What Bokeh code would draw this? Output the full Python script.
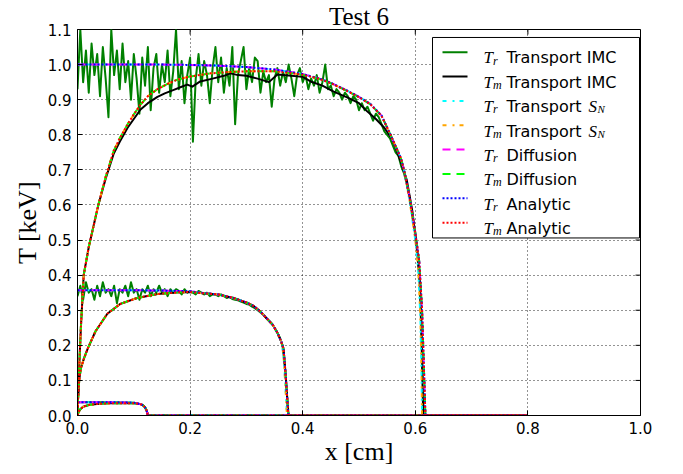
from bokeh.plotting import figure
from bokeh.models import Range1d, FixedTicker, PrintfTickFormatter
from bokeh.core.properties import value
from bokeh.embed import file_html
from bokeh.resources import INLINE

# ---------------------------------------------------------------------------
# Temperature profiles (keV) at three times; x in cm
# ---------------------------------------------------------------------------
x_ticks = [0.0, 0.2, 0.4, 0.6, 0.8, 1.0]
y_ticks = [0.0, 0.1, 0.2, 0.3, 0.4, 0.5, 0.6, 0.7, 0.8, 0.9, 1.0, 1.1]

# earliest time
tr1_x = [0.0, 0.05, 0.09, 0.10, 0.105, 0.11, 0.114, 0.117, 0.12, 0.122, 0.124, 0.125, 0.80]
tr1_y = [0.038, 0.038, 0.037, 0.036, 0.035, 0.033, 0.031, 0.028, 0.023, 0.017, 0.008, 0.0, 0.0]
tm1_x = [0.0, 0.002, 0.005, 0.01, 0.02, 0.03, 0.045, 0.06, 0.08, 0.10, 0.105, 0.11, 0.114,
         0.117, 0.12, 0.122, 0.124, 0.125, 0.80]
tm1_y = [0.0, 0.01, 0.018, 0.025, 0.03, 0.032, 0.034, 0.035, 0.035, 0.035, 0.034, 0.033, 0.031,
         0.028, 0.023, 0.017, 0.008, 0.0, 0.0]

# middle time
tr2_x = [0.0, 0.05, 0.10, 0.15, 0.20, 0.218, 0.25, 0.277, 0.30, 0.313, 0.325, 0.337, 0.347,
         0.355, 0.362, 0.366, 0.369, 0.372, 0.374, 0.375, 0.80]
tr2_y = [0.357, 0.357, 0.357, 0.356, 0.354, 0.350, 0.345, 0.335, 0.322, 0.312, 0.296, 0.275,
         0.258, 0.236, 0.21, 0.19, 0.13, 0.06, 0.01, 0.0, 0.0]
tm2_x = [0.0, 0.001, 0.003, 0.006, 0.012, 0.018, 0.032, 0.053, 0.076, 0.106, 0.142, 0.18, 0.20,
         0.218, 0.25, 0.277, 0.30, 0.313, 0.325, 0.337, 0.347, 0.355, 0.362, 0.366, 0.369,
         0.372, 0.374, 0.375, 0.80]
tm2_y = [0.0, 0.05, 0.10, 0.135, 0.165, 0.19, 0.24, 0.29, 0.318, 0.335, 0.346, 0.351, 0.352,
         0.349, 0.345, 0.335, 0.322, 0.312, 0.296, 0.275, 0.258, 0.236, 0.21, 0.19, 0.13,
         0.06, 0.01, 0.0, 0.0]

# latest time
tr3_x = [0.0, 0.05, 0.10, 0.15, 0.20, 0.25, 0.30, 0.35, 0.40, 0.43, 0.45, 0.48, 0.50, 0.52,
         0.54, 0.556, 0.574, 0.58, 0.59, 0.60, 0.607, 0.612, 0.615, 0.617, 0.618, 0.80]
tr3_y = [1.0, 1.0, 1.0, 1.0, 0.999, 0.997, 0.993, 0.986, 0.973, 0.960, 0.948, 0.925, 0.908,
         0.888, 0.855, 0.80, 0.735, 0.70, 0.62, 0.52, 0.44, 0.30, 0.15, 0.05, 0.0, 0.0]
tm3_x = [0.0, 0.002, 0.006, 0.011, 0.02, 0.037, 0.05, 0.064, 0.075, 0.089, 0.10, 0.112, 0.125,
         0.142, 0.16, 0.177, 0.20, 0.236, 0.27, 0.30, 0.35, 0.40, 0.43, 0.45, 0.48, 0.50, 0.52,
         0.54, 0.556, 0.574, 0.58, 0.59, 0.60, 0.607, 0.612, 0.615, 0.617, 0.618, 0.80]
tm3_y = [0.0, 0.10, 0.25, 0.40, 0.48, 0.60, 0.68, 0.753, 0.79, 0.83, 0.858, 0.886, 0.91, 0.93,
         0.945, 0.957, 0.966, 0.975, 0.979, 0.981, 0.981, 0.971, 0.959, 0.947, 0.924, 0.907,
         0.887, 0.854, 0.80, 0.735, 0.70, 0.62, 0.52, 0.44, 0.30, 0.15, 0.05, 0.0, 0.0]

# S_N wave fronts sit slightly behind the others
sn_front3_x = [0.58, 0.59, 0.60, 0.605, 0.609, 0.611, 0.612, 0.80]
sn_front3_y = [0.70, 0.61, 0.50, 0.42, 0.28, 0.12, 0.0, 0.0]
sn_front2_x = [0.362, 0.366, 0.368, 0.370, 0.372, 0.80]
sn_front2_y = [0.21, 0.17, 0.12, 0.06, 0.0, 0.0]

# IMC radiation temperature (noisy), sampled every 0.005 cm
imc_step = 0.005
imc_tr3 = [0.93, 1.10, 0.95, 1.04, 0.92, 1.06, 0.97, 1.03, 0.91, 1.05, 0.96, 0.85, 1.10, 0.97,
           1.04, 0.93, 1.06, 0.95, 1.01, 0.90, 1.03, 0.96, 0.86, 1.02, 0.94, 1.05, 0.87, 0.99,
           1.03, 0.92, 1.00, 0.95, 1.04, 0.91, 0.98, 1.10, 0.93, 1.01, 0.89, 0.97, 1.02, 0.78,
           0.96, 1.03, 0.94, 1.01, 0.97, 0.89, 0.99, 1.05, 0.95, 1.02, 0.92, 0.99, 0.94, 1.05,
           0.83, 0.97, 1.01, 1.05, 0.93, 0.99, 0.95, 1.02, 1.01, 0.92, 0.98, 0.95, 0.97, 0.88,
           0.96, 0.99, 0.94, 0.98, 0.95, 1.00, 0.96, 0.91, 0.97, 0.99, 0.95, 0.97, 0.93, 0.96,
           0.94, 0.97, 0.92, 0.95, 1.00, 0.93, 0.94, 0.91, 0.93, 0.92, 0.90, 0.92, 0.91, 0.89,
           0.91, 0.90, 0.87, 0.89, 0.87, 0.88, 0.86, 0.84, 0.86, 0.85, 0.83, 0.81, 0.80, 0.79,
           0.77, 0.75, 0.74, 0.71, 0.69, 0.66, 0.62, 0.57, 0.52, 0.45]
imc_tr3_front_x = [0.610, 0.613, 0.615, 0.80]
imc_tr3_front_y = [0.32, 0.12, 0.0, 0.0]

imc_tr2 = [0.34, 0.37, 0.33, 0.38, 0.35, 0.36, 0.33, 0.37, 0.34, 0.38, 0.35, 0.36, 0.34, 0.37,
           0.32, 0.36, 0.35, 0.37, 0.34, 0.38, 0.35, 0.36, 0.33, 0.36, 0.35, 0.37, 0.34, 0.36,
           0.35, 0.37, 0.35, 0.36, 0.34, 0.36, 0.35, 0.36, 0.355, 0.345, 0.36, 0.35, 0.355,
           0.35, 0.345, 0.355, 0.35, 0.345, 0.35, 0.34, 0.345, 0.345, 0.34, 0.345, 0.34, 0.335,
           0.338, 0.332, 0.33, 0.328, 0.325, 0.322, 0.318, 0.316, 0.31, 0.306, 0.30, 0.294,
           0.287, 0.278, 0.27, 0.262, 0.25, 0.236, 0.22]
imc_tr2_front_x = [0.364, 0.367, 0.370, 0.373, 0.375, 0.80]
imc_tr2_front_y = [0.20, 0.16, 0.11, 0.04, 0.0, 0.0]

# IMC material temperature at the latest time
imc_tm3_x = [0.0, 0.002, 0.006, 0.011, 0.02, 0.037, 0.05, 0.064, 0.075, 0.089, 0.10, 0.112,
             0.125, 0.142, 0.155, 0.171, 0.185, 0.195, 0.204, 0.218, 0.24, 0.26, 0.272, 0.285,
             0.30, 0.32, 0.34, 0.355, 0.38, 0.40, 0.414, 0.435, 0.455, 0.48, 0.50, 0.515, 0.53,
             0.545, 0.56, 0.575, 0.585, 0.595, 0.603, 0.608, 0.611, 0.613, 0.614, 0.80]
imc_tm3_y = [0.0, 0.10, 0.25, 0.40, 0.48, 0.60, 0.675, 0.745, 0.78, 0.82, 0.845, 0.872, 0.89,
             0.908, 0.918, 0.928, 0.937, 0.943, 0.937, 0.952, 0.96, 0.968, 0.975, 0.97, 0.968,
             0.96, 0.95, 0.972, 0.968, 0.965, 0.952, 0.94, 0.923, 0.906, 0.89, 0.866, 0.845,
             0.82, 0.785, 0.72, 0.67, 0.58, 0.47, 0.38, 0.22, 0.08, 0.0, 0.0]


def imc_series(vals, front_x, front_y):
    xs = [round(i * imc_step, 3) for i in range(len(vals))]
    return xs + front_x, list(vals) + front_y


def with_front(xs, ys, fx, fy):
    keep = [i for i, xv in enumerate(xs) if xv < fx[0]]
    return [xs[i] for i in keep] + fx, [ys[i] for i in keep] + fy


imc_tr3_x, imc_tr3_y = imc_series(imc_tr3, imc_tr3_front_x, imc_tr3_front_y)
imc_tr2_x, imc_tr2_y = imc_series(imc_tr2, imc_tr2_front_x, imc_tr2_front_y)

series = {
    "imc_tr": [(tr1_x, tr1_y), (imc_tr2_x, imc_tr2_y), (imc_tr3_x, imc_tr3_y)],
    "imc_tm": [(tm1_x, tm1_y), (tm2_x, tm2_y), (imc_tm3_x, imc_tm3_y)],
    "sn_tr": [(tr1_x, tr1_y), with_front(tr2_x, tr2_y, sn_front2_x, sn_front2_y),
              with_front(tr3_x, tr3_y, sn_front3_x, sn_front3_y)],
    "sn_tm": [(tm1_x, tm1_y), with_front(tm2_x, tm2_y, sn_front2_x, sn_front2_y),
              with_front(tm3_x, tm3_y, sn_front3_x, sn_front3_y)],
    "dif_tr": [(tr1_x, tr1_y), (tr2_x, tr2_y), (tr3_x, tr3_y)],
    "dif_tm": [(tm1_x, tm1_y), (tm2_x, tm2_y), (tm3_x, tm3_y)],
    "ana_tr": [(tr1_x, tr1_y), (tr2_x, tr2_y), (tr3_x, tr3_y)],
    "ana_tm": [(tm1_x, tm1_y), (tm2_x, tm2_y), (tm3_x, tm3_y)],
}

DASH_DOT = "4 6 2 5"
DASHED = "8 6"
DOTTED = "2 2"
styles = [
    # key, colour, dash, subscript, legend text, S_N suffix
    ("imc_tr", "#008000", "solid", "r", "Transport IMC", False),
    ("imc_tm", "#000000", "solid", "m", "Transport IMC", False),
    ("sn_tr", "#00ffff", DASH_DOT, "r", "Transport", True),
    ("sn_tm", "#ffa500", DASH_DOT, "m", "Transport", True),
    ("dif_tr", "#ff00ff", DASHED, "r", "Diffusion", False),
    ("dif_tm", "#00ff00", DASHED, "m", "Diffusion", False),
    ("ana_tr", "#0000ff", DOTTED, "r", "Analytic", False),
    ("ana_tm", "#ff0000", DOTTED, "m", "Analytic", False),
]

# ---------------------------------------------------------------------------
# Figure
# ---------------------------------------------------------------------------
W, H = 683, 474
BL, BR, BT, BB = 77, 43, 28, 59
X0, X1, Y0, Y1 = 0.0, 1.0, 0.0, 1.1
FW, FH = W - BL - BR, H - BT - BB
SERIF = "Liberation Serif"
SANS = "DejaVu Sans"


def sx(px):
    return X0 + (px - BL) / FW * (X1 - X0)


def sy(py):
    return Y0 + (BT + FH - py) / FH * (Y1 - Y0)


p = figure(width=W, height=H, x_range=Range1d(X0, X1), y_range=Range1d(Y0, Y1),
           output_backend="svg", toolbar_location=None, title="Test 6",
           min_border_left=BL, min_border_right=BR, min_border_top=BT, min_border_bottom=BB)
p.title.align = "center"
p.title.text_font = SERIF
p.title.text_font_size = "25px"
p.title.text_font_style = "normal"
p.title.text_color = "black"
p.title.standoff = 0
p.title.offset = 0
p.background_fill_color = "white"
p.border_fill_color = "white"
p.outline_line_color = "black"
p.outline_line_width = 1


def style_axis(ax, ticks, label, standoff):
    ax.ticker = FixedTicker(ticks=ticks)
    ax.formatter = PrintfTickFormatter(format="%.1f")
    ax.major_tick_in = 5
    ax.major_tick_out = 0
    ax.minor_tick_line_color = None
    ax.axis_line_color = "black"
    ax.major_tick_line_color = "black"
    ax.major_label_text_font = SANS
    ax.major_label_text_font_size = "15px"
    ax.major_label_text_color = "black"
    ax.major_label_standoff = 6
    ax.axis_label = label
    ax.axis_label_text_font = SERIF
    ax.axis_label_text_font_size = "26px"
    ax.axis_label_text_font_style = "normal"
    ax.axis_label_text_color = "black"
    ax.axis_label_standoff = standoff


style_axis(p.xaxis[0], x_ticks, "x [cm]", 0)
style_axis(p.yaxis[0], y_ticks, "T [keV]", 3)

p.xgrid.ticker = FixedTicker(ticks=x_ticks)
p.ygrid.ticker = FixedTicker(ticks=y_ticks)
for g in (p.xgrid[0], p.ygrid[0]):
    g.grid_line_color = "black"
    g.grid_line_dash = "1 3"
    g.grid_line_width = 1
    g.grid_line_alpha = 0.85

# profiles
for key, color, dash, _, _, _ in styles:
    for xs, ys in series[key]:
        p.line(xs, ys, line_color=color, line_width=2, line_dash=dash, line_join="round")

# inward ticks along the top and right edges of the frame
TICK = 5
p.segment(x0=x_ticks, x1=x_ticks, y0=[Y1] * len(x_ticks), y1=[sy(BT + TICK)] * len(x_ticks),
          line_color="black", line_width=1)
p.segment(x0=[X1] * len(y_ticks), x1=[sx(BL + FW - TICK)] * len(y_ticks), y0=y_ticks, y1=y_ticks,
          line_color="black", line_width=1)

# legend box and entries
LEG_L, LEG_R, LEG_T, LEG_B = 432, 639, 36, 237
ROW0, ROW_STEP = 50.7, 24.43
p.quad(left=[sx(LEG_L)], right=[sx(LEG_R)], top=[sy(LEG_T)], bottom=[sy(LEG_B)],
       fill_color="white", line_color="black", line_width=1)

t_x, t_y, sub_x, sub_y, sub_t, lab_y, lab_t, sn_y, snsub_y = [], [], [], [], [], [], [], [], []
for i, (key, color, dash, sub, text, has_sn) in enumerate(styles):
    yc = ROW0 + i * ROW_STEP
    p.line([sx(442), sx(467)], [sy(yc), sy(yc)], line_color=color, line_width=2, line_dash=dash)
    t_x.append(sx(483))
    t_y.append(sy(yc + 5.8))
    sub_x.append(sx(492.5))
    sub_y.append(sy(yc + 8.5))
    sub_t.append(sub)
    lab_y.append(sy(yc + 5.8))
    lab_t.append(text)
    if has_sn:
        sn_y.append(sy(yc + 5.8))
        snsub_y.append(sy(yc + 8.5))

p.text(x=t_x, y=t_y, text=["T"] * len(t_x), text_font=value(SERIF), text_font_style="italic",
       text_font_size="17px", text_baseline="alphabetic", text_align="left", text_color="black")
p.text(x=sub_x, y=sub_y, text=sub_t, text_font=value(SERIF), text_font_style="italic",
       text_font_size="12px", text_baseline="alphabetic", text_align="left", text_color="black")
p.text(x=[sx(506)] * len(lab_y), y=lab_y, text=lab_t, text_font=value(SANS),
       text_font_size="16px", text_baseline="alphabetic", text_align="left", text_color="black")
p.text(x=[sx(588)] * len(sn_y), y=sn_y, text=["S"] * len(sn_y), text_font=value(SERIF),
       text_font_style="italic", text_font_size="17px", text_baseline="alphabetic",
       text_align="left", text_color="black")
p.text(x=[sx(597)] * len(snsub_y), y=snsub_y, text=["N"] * len(snsub_y), text_font=value(SERIF),
       text_font_style="italic", text_font_size="11px", text_baseline="alphabetic",
       text_align="left", text_color="black")

open("out.html", "w").write(file_html(p, INLINE))
